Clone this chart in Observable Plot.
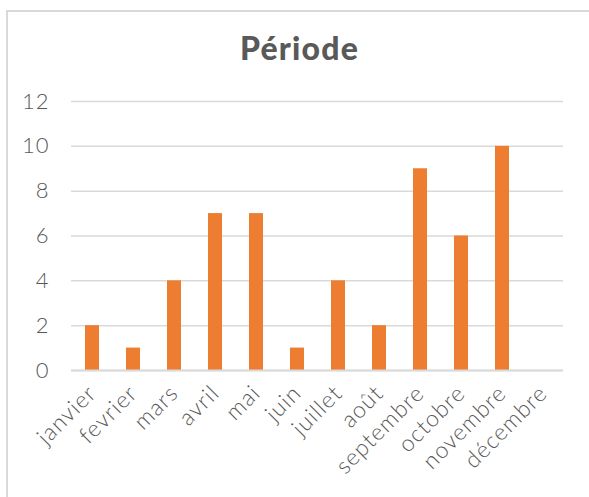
<!DOCTYPE html>
<html>
<head>
<meta charset="utf-8">
<script src="https://cdn.jsdelivr.net/npm/d3@7"></script>
<script src="https://cdn.jsdelivr.net/npm/@observablehq/plot@0.6"></script>
<style>
  body { margin: 0; background: #fff; }
  #wrap { position: relative; width: 589px; height: 497px; overflow: hidden; background: #fff; }
  #border { position: absolute; left: 6px; top: 10px; width: 700px; height: 600px; border: 2px solid #d9d9d9; box-sizing: border-box; }
  #title { position: absolute; left: 0; top: 31px; width: 599px; text-align: center; font-family: Lato, sans-serif; font-weight: 900; font-size: 32px; letter-spacing: 1.2px; color: #595959; line-height: 34px; }
  #chart { position: absolute; left: 0; top: 0; }
  #chart g[aria-label="x-axis tick label"] text { letter-spacing: 1px; }
  #chart g[aria-label="y-axis tick label"] text { letter-spacing: 1px; }
</style>
</head>
<body>
<div id="wrap">
  <div id="border"></div>
  <div id="chart"></div>
  <div id="title">Période</div>
</div>
<script>
const months = ["janvier", "fevrier", "mars", "avril", "mai", "juin", "juillet", "août", "septembre", "octobre", "novembre", "décembre"];
const counts = [2, 1, 4, 7, 7, 1, 4, 2, 9, 6, 10, 0];
const yTicks = [0, 2, 4, 6, 8, 10, 12];

const data = months.map((m, i) => ({month: m, value: counts[i]}));

const chart = Plot.plot({
  width: 589,
  height: 497,
  marginLeft: 71,
  marginRight: 26,
  marginTop: 101,
  marginBottom: 127,
  style: {fontFamily: "Lato, sans-serif", fontWeight: 300, color: "#595959", background: "transparent"},
  x: {domain: months, paddingInner: 0.66, paddingOuter: 0.33, label: null},
  y: {domain: [0, 12], label: null},
  marks: [
    Plot.gridY(yTicks, {stroke: "#d9d9d9", strokeOpacity: 1, strokeWidth: 1.5}),
    Plot.axisY(yTicks, {tickSize: 0, tickPadding: 22, fontSize: 22, fill: "#595959", label: null}),
    Plot.axisX({tickSize: 0, tickPadding: 19, tickRotate: -45, fontSize: 23, fill: "#595959", label: null}),
    Plot.barY(data, {x: "month", y: "value", fill: "#ED7D31"}),
    Plot.ruleY([0], {stroke: "#d9d9d9", strokeWidth: 2})
  ]
});
document.getElementById("chart").appendChild(chart);
</script>
</body>
</html>
